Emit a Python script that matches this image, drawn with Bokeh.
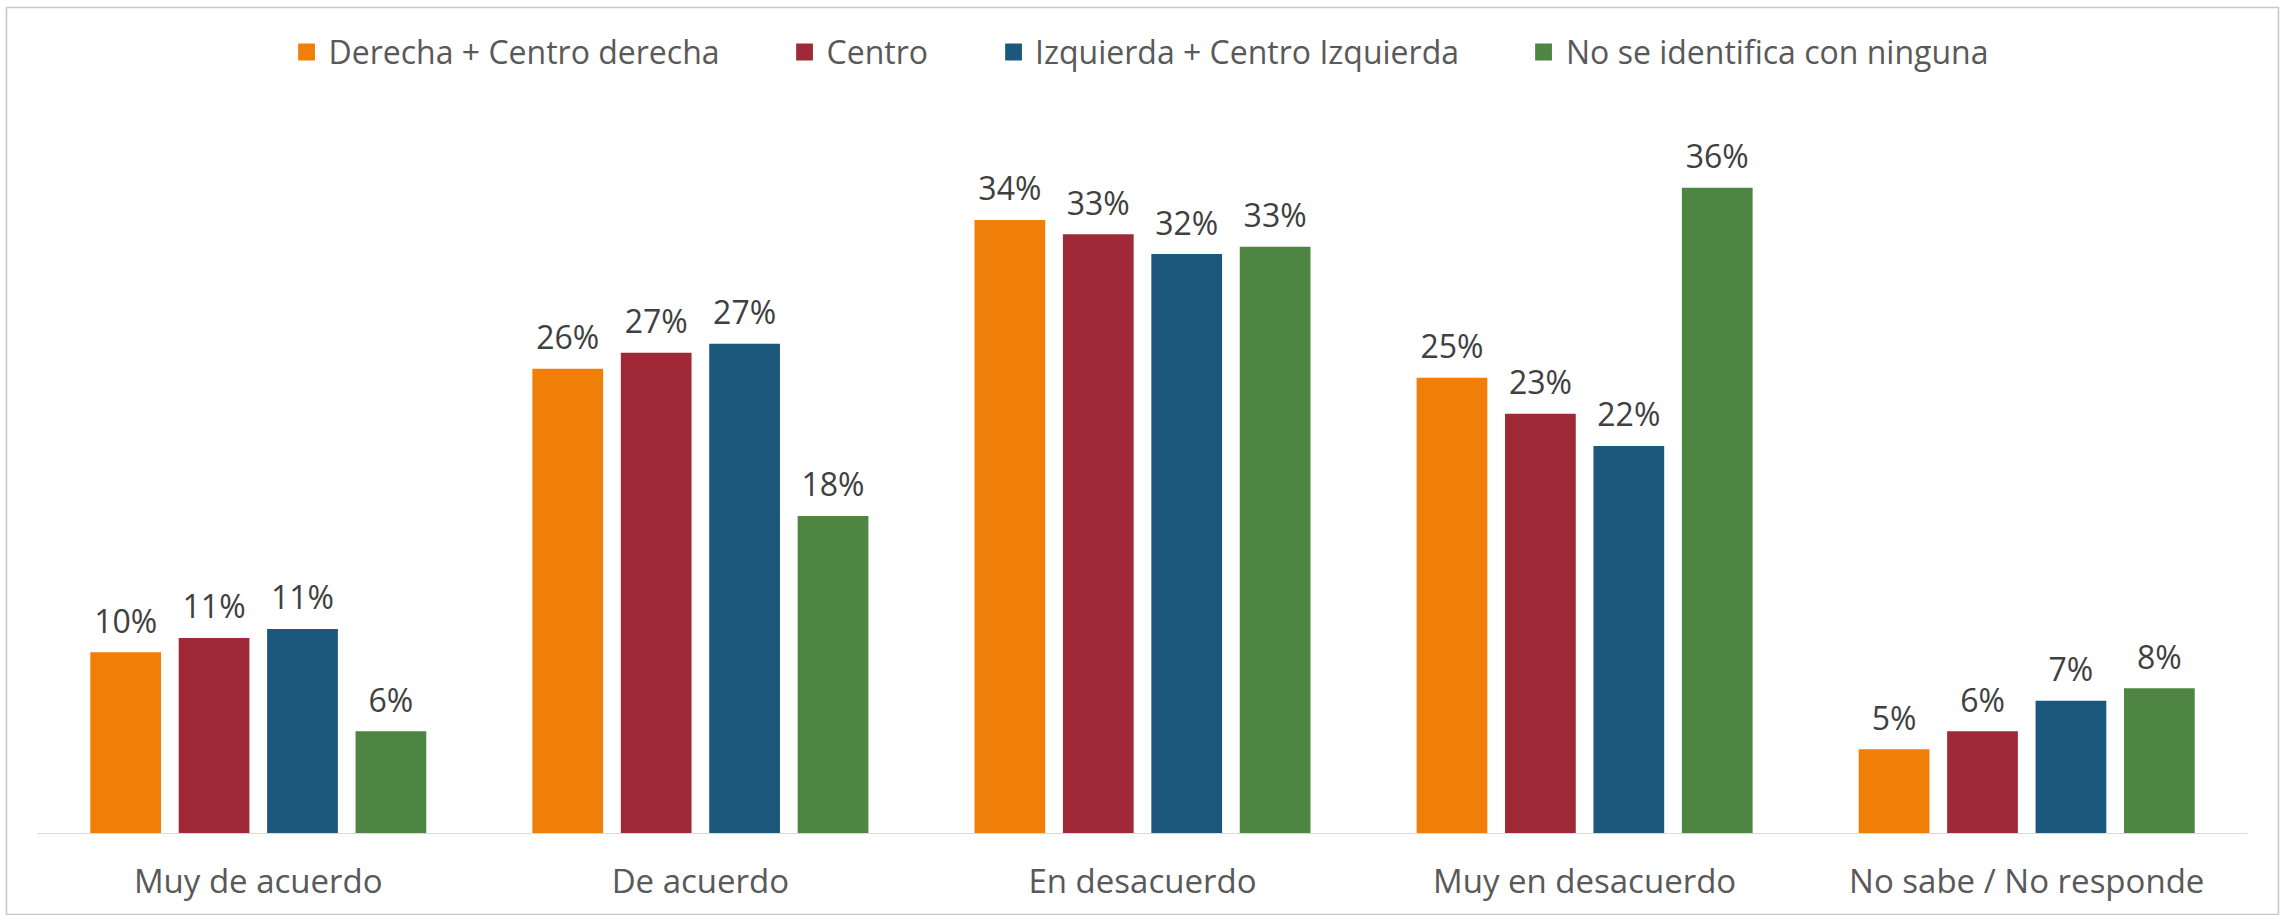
from bokeh.plotting import figure
from bokeh.models import ColumnDataSource, FactorRange, Range1d, Legend, LegendItem
from bokeh.transform import dodge
from bokeh.core.properties import value
from bokeh.embed import file_html
from bokeh.resources import INLINE

# ---- data -------------------------------------------------------------
categories = ["Muy de acuerdo", "De acuerdo", "En desacuerdo",
              "Muy en desacuerdo", "No sabe / No responde"]
series_names = ["Derecha + Centro derecha", "Centro",
                "Izquierda + Centro Izquierda", "No se identifica con ninguna"]
derecha = [10.1, 25.9, 34.2, 25.4, 4.7]
centro = [10.9, 26.8, 33.4, 23.4, 5.7]
izquierda = [11.4, 27.3, 32.3, 21.6, 7.4]
ninguna = [5.7, 17.7, 32.7, 36.0, 8.1]
colors = ["#F07F09", "#9F2936", "#1B587C", "#4E8542"]

series = [derecha, centro, izquierda, ninguna]
data = {"cat": categories}
for i, s in enumerate(series):
    data[f"s{i}"] = s
    data[f"l{i}"] = [f"{round(v):.0f}%" for v in s]
source = ColumnDataSource(data)

FONT = "Open Sans"

p = figure(width=2285, height=915,
           x_range=FactorRange(*categories, range_padding=0.0278,
                               range_padding_units="percent"),
           y_range=Range1d(-4.57, 46.04),
           y_axis_location=None,
           output_backend="svg", toolbar_location=None,
           min_border_left=6, min_border_right=7,
           min_border_top=7, min_border_bottom=0)

# the chart-area border
p.outline_line_color = "#c8c8c8"
p.outline_line_width = 1.5
p.xgrid.grid_line_color = None
p.ygrid.grid_line_color = None
p.background_fill_color = "white"
p.border_fill_color = "white"

offsets = [-0.3, -0.1, 0.1, 0.3]
items = []
for i in range(4):
    r = p.vbar(x=dodge("cat", offsets[i], range=p.x_range), top=f"s{i}",
               width=0.16, source=source, fill_color=colors[i],
               line_color=None)
    p.text(x=dodge("cat", offsets[i], range=p.x_range), y=f"s{i}",
           text=f"l{i}", source=source, text_align="center",
           text_baseline="alphabetic", y_offset=-32,
           text_font=value(FONT), text_font_size="32px",
           text_color="#404040")
    items.append(LegendItem(label=series_names[i], renderers=[r]))

legend = Legend(items=items, orientation="horizontal",
                location="top_center", margin=23, padding=10,
                glyph_width=21, glyph_height=21, label_standoff=12,
                spacing=74, border_line_color=None,
                background_fill_alpha=0,
                label_text_font=FONT, label_text_font_size="32px",
                label_text_color="#595959")
p.add_layout(legend, "center")

ax = p.xaxis[0]
ax.fixed_location = 0
ax.bounds = (0, len(categories))
ax.axis_line_color = "#d9d9d9"
ax.axis_line_width = 1
ax.major_tick_line_color = None
ax.minor_tick_line_color = None
ax.major_tick_out = 0
ax.major_label_standoff = 24
ax.major_label_text_font = FONT
ax.major_label_text_font_size = "33px"
ax.major_label_text_color = "#595959"

open("out.html", "w").write(file_html(p, INLINE))
